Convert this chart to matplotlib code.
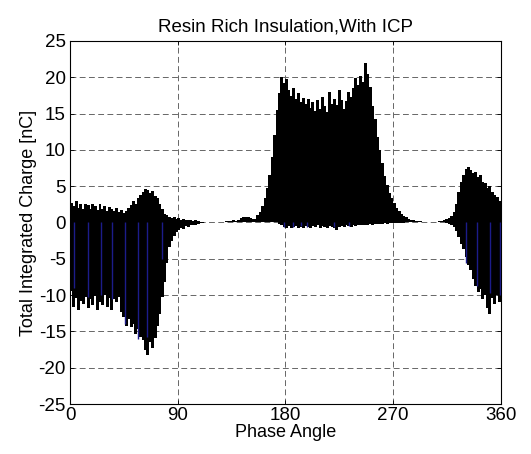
import numpy as np
import matplotlib
matplotlib.use('Agg')
import matplotlib.pyplot as plt

plt.rcParams['font.family'] = ['Liberation Sans', 'DejaVu Sans']
plt.rcParams['axes.unicode_minus'] = False

# phase bins, 2 degrees wide
phase = np.arange(1, 360, 2)

# positive charge per bin [nC]
q_pos = [
    2.7, 2.2, 2.9, 2.0, 2.6, 1.8, 2.5, 2.4, 1.9, 2.6,
    2.2, 1.7, 2.5, 1.9, 2.3, 1.6, 2.1, 1.8, 1.6, 2.0,
    1.4, 1.7, 1.3, 1.6, 2.0, 2.4, 2.9, 2.5, 3.4, 3.8,
    4.2, 4.6, 4.4, 4.1, 4.3, 3.7, 3.4, 2.6, 1.8, 1.2,
    1.0, 0.8, 0.6, 0.7, 0.5, 0.6, 0.4, 0.5, 0.3, 0.4,
    0.3, 0.2, 0.3, 0.2, 0.1, 0.1, 0.1, 0.05, 0.05, 0.05,
    0.05, 0.05, 0.05, 0.1, 0.05, 0.2, 0.15, 0.2, 0.3, 0.25,
    0.4, 0.6, 0.7, 0.8, 0.7, 0.6, 0.5, 0.5, 1.0, 1.4,
    2.2, 3.4, 4.8, 6.5, 9.0, 12.0, 15.5, 17.8, 20.0, 19.2,
    19.8, 18.3, 17.4, 18.5, 17.0, 17.8, 16.6, 17.2, 16.3, 17.0,
    15.8, 16.6, 15.4, 16.9, 15.6, 17.3, 16.1, 15.2, 17.9, 16.3,
    17.0, 16.2, 18.3, 16.8, 15.6, 16.7, 17.9, 17.3, 18.5, 19.9,
    18.9, 20.2, 19.4, 21.9, 20.4, 18.7, 16.0, 14.2, 11.8, 10.0,
    8.2, 6.4, 5.2, 4.1, 3.4, 2.7, 2.0, 1.6, 1.1, 0.9,
    0.7, 0.5, 0.4, 0.3, 0.25, 0.2, 0.15, 0.1, 0.1, 0.05,
    0.05, 0.05, 0.1, 0.1, 0.15, 0.2, 0.3, 0.5, 0.6, 0.9,
    1.4, 2.6, 4.2, 5.6, 6.6, 7.4, 7.6, 7.2, 6.8, 6.9,
    6.2, 6.5, 5.6, 5.4, 4.7, 5.0, 4.2, 3.8, 3.5, 3.0,
]

# negative charge per bin [nC]
q_neg = [
    -9.5, -11.6, -10.4, -12.0, -10.8, -11.2, -10.2, -11.8, -10.6, -11.4,
    -10.1, -12.0, -10.9, -11.3, -10.0, -11.7, -10.4, -12.1, -10.6, -11.0,
    -10.2, -12.3, -13.0, -14.2, -13.3, -14.4, -14.0, -15.3, -14.6, -15.8,
    -16.2, -17.6, -18.2, -16.5, -17.3, -15.9, -14.2, -12.6, -10.3, -8.2,
    -5.6, -3.4, -2.6, -1.8, -1.3, -1.0, -0.8, -0.9, -0.5, -0.6,
    -0.4, -0.3, -0.3, -0.2, -0.1, -0.1, 0, 0, 0, 0,
    0, 0, 0, 0, 0, 0, 0, 0, 0, 0,
    0, 0, 0, 0, 0, 0, 0, 0, 0, 0,
    0, 0, 0, 0, 0, 0, 0, -0.2, -0.4, -0.6,
    -0.7, -0.5, -0.8, -0.6, -0.5, -0.7, -0.6, -0.8, -0.5, -0.6,
    -0.7, -0.5, -0.6, -0.4, -0.8, -0.5, -0.6, -0.7, -0.5, -0.6,
    -0.8, -1.0, -0.6, -0.5, -0.6, -0.4, -0.5, -0.6, -0.4, -0.5,
    -0.4, -0.3, -0.4, -0.3, -0.3, -0.2, -0.3, -0.2, -0.2, -0.2,
    -0.2, -0.1, -0.2, -0.1, -0.1, -0.1, -0.1, -0.1, -0.05, -0.05,
    0, 0, 0, 0, 0, 0, 0, 0, 0, 0,
    0, 0, 0, 0, 0, 0, 0, -0.1, -0.2, -0.3,
    -0.6, -1.2, -2.0, -3.0, -3.6, -4.8, -5.8, -6.5, -7.8, -8.8,
    -9.6, -9.2, -10.6, -10.0, -11.8, -12.6, -10.4, -11.2, -10.0, -11.0,
]

# second (blue) series, only visible as thin lines
blue_phase = [3, 15, 26, 35, 46, 57, 64, 77, 179, 186, 193, 198, 221, 233,
              331, 340, 351, 359.5]
blue_q = [-9.0, -10.3, -10.0, -10.5, -14.0, -16.0, -15.8, -5.0, -0.6, -0.6,
          -0.5, -0.6, -0.6, -0.5, -5.6, -8.8, -9.7, -10.0]

xticks = [0, 90, 180, 270, 360]
yticks = list(range(-25, 30, 5))

fig = plt.figure(figsize=(5.31, 4.54), dpi=100)
ax = fig.add_axes([0.132, 0.110, 0.811, 0.800])

ax.bar(phase, q_pos, width=2.5, color='black', linewidth=0,
       antialiased=False, zorder=2)
ax.bar(phase, q_neg, width=2.5, color='black', linewidth=0,
       antialiased=False, zorder=2)
ax.vlines(blue_phase, 0, blue_q, colors='#1c1c8a', linewidth=1.0, zorder=3)

ax.set_xlim(0, 360)
ax.set_ylim(-25, 25)
ax.set_xticks(xticks)
ax.set_yticks(yticks)
ax.tick_params(direction='in', length=3, top=True, right=True,
               labelsize=13.5, width=0.6)
ax.tick_params(axis='y', pad=3)
ax.tick_params(axis='x', pad=2)
ax.grid(True, color='#666666', linestyle=(0, (6, 3.5)), linewidth=0.7, zorder=0)
ax.set_axisbelow(True)
for s in ax.spines.values():
    s.set_linewidth(0.8)
    s.set_zorder(4)

ax.set_xlabel('Phase Angle', fontsize=13, labelpad=0)
ax.set_ylabel('Total Integrated Charge [nC]', fontsize=13, labelpad=1)
ax.set_title('Resin Rich Insulation,With ICP', fontsize=13.5, pad=7)

fig.savefig('out.png', dpi=100)
